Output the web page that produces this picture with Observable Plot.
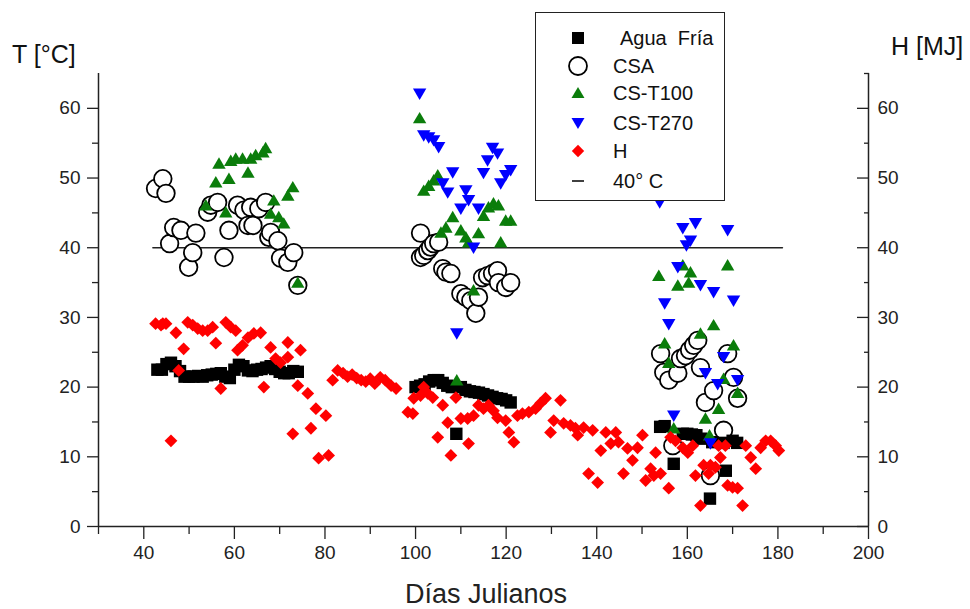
<!DOCTYPE html>
<html><head><meta charset="utf-8">
<script src="https://cdn.jsdelivr.net/npm/d3@7"></script>
<script src="https://cdn.jsdelivr.net/npm/@observablehq/plot@0.6"></script>
<style>
body{margin:0;background:#fff;}
#wrap{position:relative;width:970px;height:609px;font-family:"Liberation Sans",Arial,sans-serif;overflow:hidden;}
.lbl{position:absolute;white-space:nowrap;color:#111;line-height:1;}
#legend{position:absolute;left:535px;top:12px;width:188px;height:187px;border:1.5px solid #222;background:#fff;}
</style></head><body><div id="wrap"></div>
<script>
// ---- data ----
const xMajorTicks = [40, 60, 80, 100, 120, 140, 160, 180, 200];
const xMinorTicks = [30, 50, 70, 90, 110, 130, 150, 170, 190];
const yMajorTicks = [0, 10, 20, 30, 40, 50, 60];
const yMinorTicks = [5, 15, 25, 35, 45, 55];
const yMinorTicksRight = [5, 15, 25, 35, 45, 55, 65];
const refTemp = 40;
const refDays = [42, 181];

const aguaFria = [
  [43,22.5],[44,22.5],[45,23.3],[46,23.5],[47,23.0],[48,22.3],[49,21.5],[50,21.5],[51,21.5],[52,21.6],
  [53,21.5],[54,21.7],[55,21.8],[56,21.9],[57,22.0],[58,21.5],[59,21.3],[60,22.5],[61,23.2],[62,23.0],
  [63,22.4],[64,22.3],[65,22.5],[66,22.6],[67,22.8],[68,23.0],[69,22.6],[70,22.2],[71,22.0],[72,22.0],
  [73,22.3],[74,22.2],
  [100,20.0],[101,20.2],[102,20.4],[103,20.8],[104,21.0],[105,21.0],[106,20.6],[107,20.2],[108,20.0],
  [109,13.3],[110,20.0],[111,19.6],[112,19.4],[113,19.3],[114,19.2],[115,19.0],[116,18.8],[117,18.6],
  [118,18.4],[119,18.3],[120,18.1],[121,17.8],
  [154,14.3],[155,14.4],[157,9.0],[159,13.3],[160,13.3],[161,13.2],[162,13.1],[163,12.6],[165,4.0],
  [165.5,12.1],[168,12.0],[168.5,8.0],[170,12.3],[171,12.0]
];

const csa = [
  [42.6,48.5],[44.2,49.9],[44.9,47.8],[45.7,40.6],[46.6,42.9],[48.2,42.5],[49.9,37.2],[50.8,39.3],
  [51.5,42.1],[54.1,45.1],[54.8,46.1],[56.3,46.5],[57.7,38.6],[58.8,42.5],[60.7,46.1],[62.1,45.4],
  [63.0,43.2],[63.6,45.8],[64.1,43.2],[65.4,45.6],[66.9,46.5],[67.6,41.5],[68.0,42.2],[69.6,41.0],
  [70.2,38.5],[71.8,37.9],[73.1,39.3],[74.0,34.6],
  [101.1,42.1],[101.1,38.6],[101.8,38.9],[102.7,39.6],[103.3,40.1],[104.0,40.6],[105.1,40.8],[106.0,37.0],
  [106.7,36.5],[107.8,36.3],[110.0,33.4],[111.1,32.9],[112.2,32.4],[113.3,30.6],[113.9,32.9],[114.8,35.7],
  [115.9,36.0],[117.0,36.3],[118.1,36.7],[118.3,35.0],[119.9,34.3],[121.0,35.0],
  [154.1,24.8],[154.8,22.1],[155.9,21.0],[156.8,11.6],[157.9,22.0],[158.5,24.1],[159.6,24.5],[160.5,25.3],
  [161.4,26.0],[162.3,26.7],[162.9,22.8],[164.0,17.8],[165.1,7.3],[165.8,19.5],[168.0,13.8],[168.9,24.8],
  [170.2,21.4],[171.1,18.4]
];

const csT100 = [
  [53.7,46.1],[55.9,49.4],[56.6,52.1],[58.1,45.1],[58.8,49.9],[59.2,52.5],[60.3,52.8],[61.8,52.8],
  [63.0,50.8],[63.6,52.8],[64.7,53.3],[66.3,53.7],[66.9,54.3],[68.0,44.9],[68.7,46.8],[69.8,44.4],
  [70.9,43.5],[71.8,47.5],[72.9,48.7],[74.0,35.0],
  [100.9,58.6],[101.8,48.2],[102.9,48.9],[104.0,49.7],[104.9,50.4],[105.6,42.2],[106.7,42.9],[108.2,44.4],
  [109.1,21.0],[110.0,42.5],[111.1,41.5],[111.7,40.8],[112.8,33.9],[113.9,42.1],[115.0,44.6],[116.1,45.8],
  [117.2,46.4],[118.3,46.1],[118.8,40.8],[119.9,43.9],[121.0,43.9],
  [153.7,36.0],[155.0,26.3],[155.9,23.5],[157.0,14.1],[157.9,34.6],[159.0,37.5],[160.3,35.0],[160.7,36.5],
  [162.9,27.7],[164.0,15.5],[164.9,13.1],[165.8,28.9],[166.9,16.9],[168.0,21.2],[168.9,37.5],[170.2,26.0],
  [171.1,19.2]
];

const csT270 = [
  [100.9,62.1],[101.8,56.1],[102.9,55.8],[104.0,55.4],[105.1,54.4],[106.0,49.2],[107.1,47.9],[108.2,50.8],
  [109.1,27.7],[110.0,45.6],[111.1,48.2],[111.7,46.8],[112.8,40.0],[113.9,45.6],[115.0,50.7],[115.9,52.5],
  [117.0,54.3],[118.1,53.5],[118.8,49.2],[119.9,50.4],[121.0,51.1],
  [153.9,46.5],[155.0,32.0],[155.9,29.0],[157.0,15.9],[157.9,37.2],[159.0,42.8],[159.8,40.3],[160.7,41.0],
  [161.8,43.5],[162.9,34.6],[164.0,22.0],[165.1,11.9],[165.8,33.6],[166.7,20.4],[168.0,24.3],[168.9,42.5],
  [170.2,32.4],[171.1,21.0]
];

const hEnergy = [
  [42.6,29.1],[43.8,28.9],[44.2,29.1],[44.9,29.1],[46.0,12.3],[47.1,27.8],[47.7,22.4],[48.8,25.5],
  [49.7,29.3],[50.8,28.9],[51.9,28.4],[53.0,28.1],[54.1,28.1],[55.2,28.6],[55.9,26.3],[57.0,19.8],
  [58.1,29.3],[59.2,28.6],[60.3,28.1],[60.7,25.3],[61.8,26.0],[63.0,27.1],[64.3,27.7],[65.8,27.8],
  [66.5,20.0],[68.0,25.7],[69.1,24.1],[70.2,23.5],[71.8,26.4],[71.8,24.3],[72.9,13.3],[74.0,20.2],
  [74.6,25.3],[76.2,19.1],[76.9,14.1],[78.0,16.9],[78.6,9.8],[80.2,15.9],[80.8,10.2],[81.7,21.0],
  [82.8,22.4],[84,22.0],[85,21.5],[86,21.8],[87,21.3],[88,21.0],[89,20.8],[90,21.2],[91,20.5],
  [92.2,21.4],[93.3,21.0],[94.6,20.2],[95.7,19.8],[98.3,16.4],[99.4,16.2],[99.6,18.4],[101.1,18.8],
  [101.8,20.0],[102.7,19.1],[103.8,18.5],[104.9,12.8],[106.0,17.4],[107.1,14.9],[107.8,10.2],[108.9,18.5],
  [110.0,15.5],[111.5,15.5],[111.7,11.9],[112.8,15.9],[113.9,17.4],[115.0,16.9],[116.1,17.4],[117.2,16.6],
  [118.1,15.6],[119.9,15.2],[120.6,13.5],[121.7,12.1],[122.5,15.9],[123.6,16.2],[125.0,16.4],[126.5,16.9],
  [127.6,17.7],[128.7,18.4],[129.8,13.5],[130.5,15.2],[132.0,18.1],[132.7,14.8],[134.2,14.5],[135.3,14.1],
  [135.8,13.1],[137.1,14.2],[138.2,7.6],[139.1,13.8],[140.2,6.3],[140.9,10.9],[142.0,13.5],[143.1,11.9],
  [144.2,13.5],[144.8,12.1],[145.9,7.6],[146.8,11.2],[147.9,9.5],[149.0,11.3],[150.1,13.1],[150.8,6.6],
  [151.9,8.3],[152.6,7.3],[153.0,10.6],[154.1,7.6],[155.9,5.5],[156.3,12.8],[157.4,12.3],[159.0,11.3],
  [160.1,10.6],[161.2,11.6],[161.8,7.3],[162.9,3.0],[163.6,8.8],[164.7,7.6],[165.1,8.8],[166.2,8.5],
  [166.9,11.6],[167.3,9.9],[168.4,11.6],[168.9,5.9],[170.0,5.6],[171.1,5.5],[172.2,3.0],[172.9,11.6],
  [174.0,9.9],[175.1,8.3],[176.2,11.3],[177.3,12.3],[178.4,12.3],[179.5,11.6],[180.2,10.9]
];

const legendLabels = ["Agua  Fría", "CSA", "CS-T100", "CS-T270", "H", "40° C"];

// ---- symbols ----
const rOf = s => Math.sqrt(s / Math.PI);
const symSquare = {draw(c, s){const r = rOf(s); c.moveTo(-r,-r); c.lineTo(r,-r); c.lineTo(r,r); c.lineTo(-r,r); c.closePath();}};
const symUp = {draw(c, s){const r = rOf(s); c.moveTo(0,-r); c.lineTo(r*1.08, r*0.85); c.lineTo(-r*1.08, r*0.85); c.closePath();}};
const symDown = {draw(c, s){const r = rOf(s); c.moveTo(0,r); c.lineTo(r*1.08, -r*0.85); c.lineTo(-r*1.08, -r*0.85); c.closePath();}};
const symDiamond = {draw(c, s){const r = rOf(s); c.moveTo(0,-r); c.lineTo(r,0); c.lineTo(0,r); c.lineTo(-r,0); c.closePath();}};

const GREEN = "#0b7d0b", BLUE = "#0000ff", RED = "#ff0000";
const px = d => d[0], py = d => d[1];

const chart = Plot.plot({
  width: 970, height: 609,
  marginLeft: 98, marginRight: 102, marginTop: 73, marginBottom: 83,
  style: {fontFamily: "'Liberation Sans', Arial, sans-serif", fontSize: "19px", color: "#222", background: "transparent"},
  x: {domain: [30, 200]},
  y: {domain: [0, 65]},
  marks: [
    Plot.axisX({ticks: xMajorTicks, tickSize: 13, tickPadding: 6, label: null, strokeWidth: 1.3}),
    Plot.axisX({ticks: xMinorTicks, tickSize: 8, tickFormat: () => "", label: null, strokeWidth: 1.3}),
    Plot.axisY({anchor: "left", ticks: yMajorTicks, tickSize: 11, tickPadding: 7, label: null, strokeWidth: 1.3}),
    Plot.axisY({anchor: "left", ticks: yMinorTicks, tickSize: 6, tickFormat: () => "", label: null, strokeWidth: 1.3}),
    Plot.axisY({anchor: "right", ticks: yMajorTicks, tickSize: 12, dx: -12, tickFormat: () => "", label: null, strokeWidth: 1.3}),
    Plot.axisY({anchor: "right", ticks: yMinorTicksRight, tickSize: 5, dx: -5, tickFormat: () => "", label: null, strokeWidth: 1.3}),
    Plot.axisY({anchor: "right", ticks: yMajorTicks, tickSize: 0, tickPadding: 9, label: null}),
    Plot.ruleX([30, 200], {stroke: "#222", strokeWidth: 1.5}),
    Plot.ruleY([0], {stroke: "#222", strokeWidth: 1.5}),
    Plot.line(refDays.map(d => [d, refTemp]), {x: px, y: py, stroke: "#222", strokeWidth: 1.5}),
    Plot.dot(csa, {x: px, y: py, symbol: "circle", r: 8.8, fill: "white", stroke: "black", strokeWidth: 1.8}),
    Plot.dot(aguaFria, {x: px, y: py, symbol: symSquare, r: 6.2, fill: "black", stroke: "none"}),
    Plot.dot(csT100, {x: px, y: py, symbol: symUp, r: 6.2, fill: GREEN, stroke: "none"}),
    Plot.dot(csT270, {x: px, y: py, symbol: symDown, r: 6.2, fill: BLUE, stroke: "none"}),
    Plot.dot(hEnergy, {x: px, y: py, symbol: symDiamond, r: 6.4, fill: RED, stroke: "none"})
  ]
});

const wrap = document.getElementById("wrap");
wrap.appendChild(chart);

function addLabel(text, css){
  const d = document.createElement("div");
  d.className = "lbl"; d.textContent = text;
  Object.assign(d.style, css);
  wrap.appendChild(d);
  return d;
}
addLabel("T [°C]", {left: "12px", top: "42px", fontSize: "25px"});
addLabel("H [MJ]", {left: "891px", top: "34px", fontSize: "25px"});
addLabel("Días Julianos", {left: "486px", top: "581px", fontSize: "27px", transform: "translateX(-50%)", color: "#222"});

// legend
const lg = document.createElement("div");
lg.id = "legend";
wrap.appendChild(lg);
const svg = d3.select(lg).append("svg").attr("width", 188).attr("height", 187)
  .style("font-family", "'Liberation Sans', Arial, sans-serif").style("font-size", "20px");
const rowsY = [25, 53, 80, 110, 138, 168];
const symPath = (sym, r) => d3.symbol().type(sym).size(Math.PI * r * r)();
const legSyms = [
  g => g.append("path").attr("d", symPath(symSquare, 6)).attr("fill", "black"),
  g => g.append("circle").attr("r", 9).attr("fill", "white").attr("stroke", "black").attr("stroke-width", 1.8),
  g => g.append("path").attr("d", symPath(symUp, 6)).attr("fill", GREEN),
  g => g.append("path").attr("d", symPath(symDown, 6)).attr("fill", BLUE),
  g => g.append("path").attr("d", symPath(symDiamond, 6.2)).attr("fill", RED),
  g => g.append("line").attr("x1", -6).attr("x2", 6).attr("stroke", "#111").attr("stroke-width", 1.6)
];
legendLabels.forEach((lab, i) => {
  const g = svg.append("g").attr("transform", `translate(42,${rowsY[i]})`);
  legSyms[i](g);
  svg.append("text").attr("x", i === 0 ? 84 : 77).attr("y", rowsY[i] + 7).attr("fill", "#111")
    .style("white-space", "pre").attr("xml:space", "preserve").text(lab);
});
</script></body></html>
